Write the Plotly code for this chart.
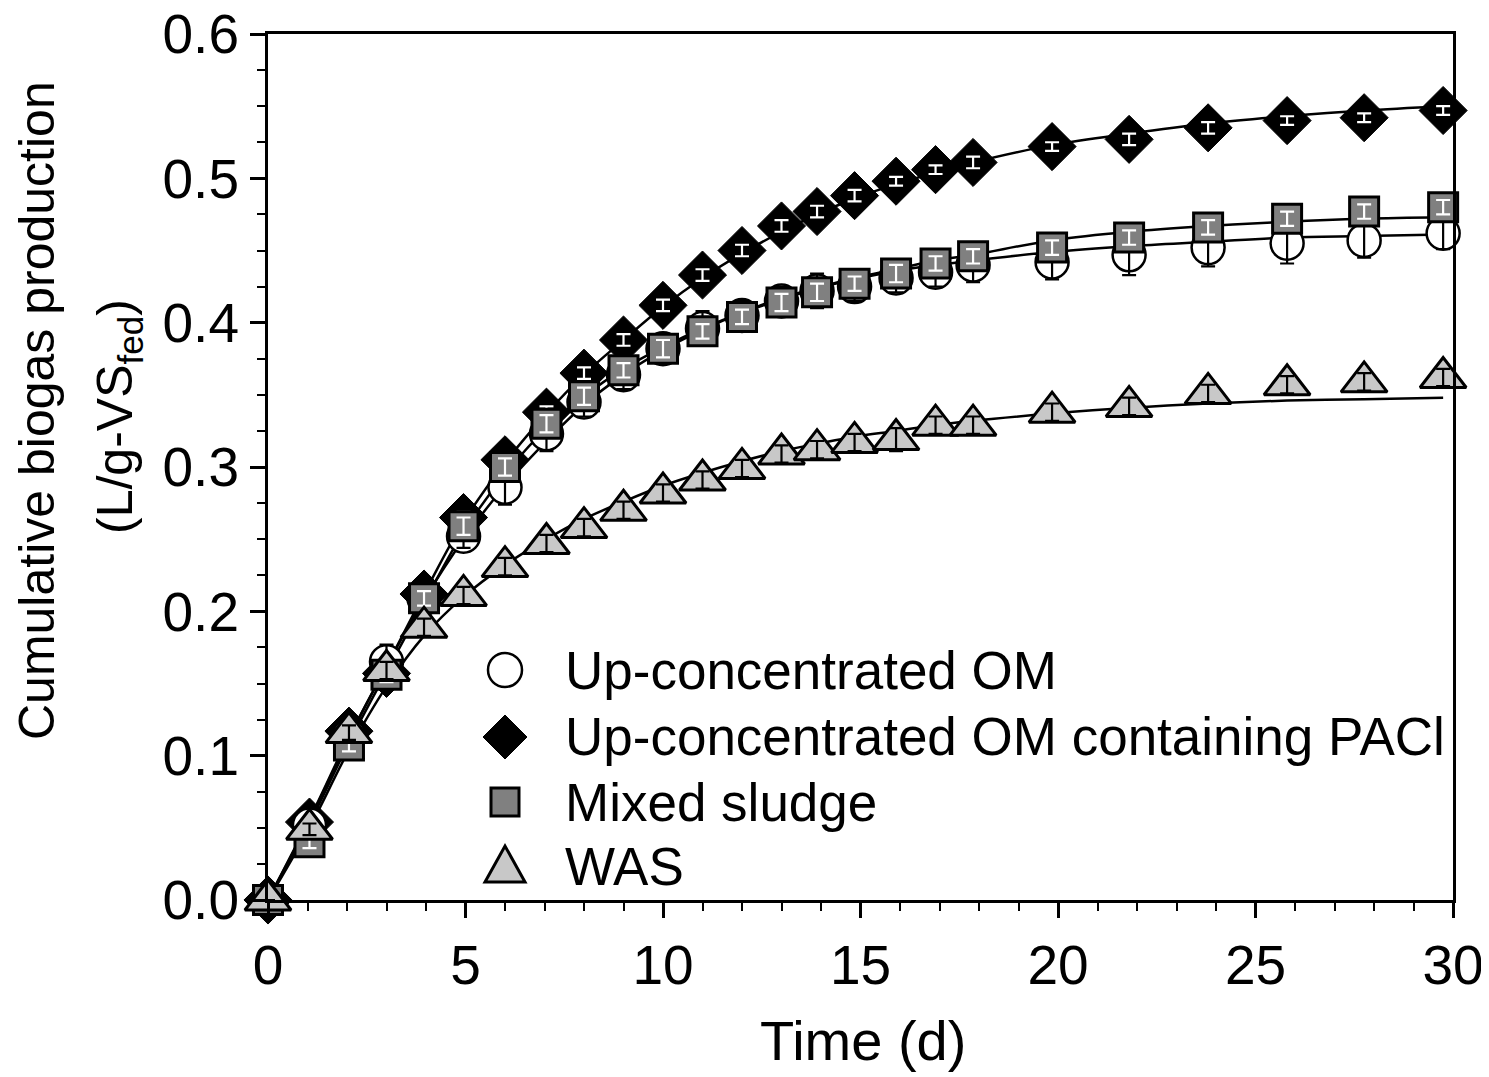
import plotly.graph_objects as go

# ---------------- data ----------------
time_d = [0, 1.05, 2.05, 3.0, 3.95, 4.95, 6.0, 7.05, 8.0, 9.0, 10.0, 11.0, 12.0,
          13.0, 13.9, 14.85, 15.9, 16.9, 17.85, 19.85, 21.8, 23.8, 25.8, 27.75, 29.75]

om = [0, 0.052, 0.114, 0.165, 0.209, 0.252, 0.286, 0.323, 0.345, 0.364, 0.382, 0.396, 0.405,
      0.415, 0.422, 0.425, 0.431, 0.435, 0.440, 0.442, 0.447, 0.452, 0.455, 0.457, 0.462]
om_err = [0, 0.005, 0.006, 0.012, 0.008, 0.008, 0.012, 0.012, 0.010, 0.010, 0.010, 0.012, 0.010,
          0.010, 0.012, 0.010, 0.010, 0.010, 0.012, 0.012, 0.014, 0.013, 0.014, 0.012, 0.011]
om_fit = [0, 0.055, 0.112, 0.162, 0.208, 0.250, 0.287, 0.318, 0.343, 0.364, 0.381, 0.395, 0.407,
          0.417, 0.424, 0.430, 0.436, 0.440, 0.443, 0.449, 0.453, 0.456, 0.459, 0.460, 0.461]

pacl = [0, 0.054, 0.117, 0.157, 0.212, 0.265, 0.305, 0.338, 0.365, 0.388, 0.412, 0.433, 0.450,
        0.467, 0.477, 0.488, 0.498, 0.506, 0.511, 0.522, 0.527, 0.535, 0.540, 0.542, 0.547]
pacl_err = [0, 0.004, 0.004, 0.003, 0.004, 0.004, 0.005, 0.004, 0.004, 0.004, 0.004, 0.004, 0.004,
            0.004, 0.004, 0.004, 0.003, 0.003, 0.004, 0.003, 0.004, 0.004, 0.003, 0.003, 0.003]
pacl_fit = [0, 0.056, 0.113, 0.162, 0.212, 0.262, 0.303, 0.337, 0.364, 0.388, 0.411, 0.431, 0.448,
            0.463, 0.475, 0.486, 0.496, 0.504, 0.511, 0.523, 0.531, 0.538, 0.543, 0.547, 0.550]

mixed = [0, 0.040, 0.107, 0.156, 0.209, 0.259, 0.300, 0.330, 0.349, 0.367, 0.382, 0.394, 0.404,
         0.414, 0.421, 0.427, 0.434, 0.441, 0.446, 0.452, 0.459, 0.466, 0.472, 0.477, 0.480]
mixed_err = [0, 0.004, 0.004, 0.005, 0.005, 0.006, 0.006, 0.006, 0.006, 0.005, 0.006, 0.005, 0.005,
             0.006, 0.006, 0.005, 0.006, 0.005, 0.005, 0.005, 0.005, 0.005, 0.005, 0.005, 0.005]
mixed_fit = [0, 0.053, 0.109, 0.158, 0.206, 0.255, 0.295, 0.327, 0.349, 0.368, 0.383, 0.396, 0.407,
             0.416, 0.424, 0.431, 0.437, 0.443, 0.447, 0.457, 0.463, 0.467, 0.470, 0.472, 0.473]

was = [0, 0.049, 0.116, 0.159, 0.189, 0.211, 0.231, 0.247, 0.258, 0.270, 0.282, 0.291, 0.299,
       0.309, 0.312, 0.317, 0.319, 0.329, 0.329, 0.338, 0.342, 0.351, 0.357, 0.359, 0.362]
was_err = [0, 0.004, 0.005, 0.006, 0.006, 0.006, 0.006, 0.006, 0.006, 0.006, 0.006, 0.006, 0.006,
           0.006, 0.006, 0.006, 0.008, 0.006, 0.006, 0.006, 0.006, 0.006, 0.006, 0.006, 0.006]
was_fit = [0, 0.050, 0.104, 0.148, 0.183, 0.210, 0.232, 0.250, 0.264, 0.276, 0.287, 0.296, 0.304,
           0.311, 0.316, 0.321, 0.325, 0.329, 0.332, 0.337, 0.341, 0.344, 0.346, 0.347, 0.348]

series_names = ["Up-concentrated OM", "Up-concentrated OM containing PACl", "Mixed sludge", "WAS"]
x_title = "Time (d)"
y_title_1 = "Cumulative biogas production"
y_title_2 = "(L/g-VS<sub>fed</sub>)"

FONT = "Liberation Sans, Arial, sans-serif"

fig = go.Figure()

# fitted curves (drawn below markers)
for fit in [pacl_fit, om_fit, mixed_fit, was_fit]:
    fig.add_trace(go.Scatter(x=time_d, y=fit, mode="lines", line=dict(color="black", width=2.5, shape="spline"),
                             showlegend=False, hoverinfo="skip", cliponaxis=False))

styles = {
    "pacl": dict(y=pacl, err=pacl_err, name=series_names[1],
                 marker=dict(symbol="diamond", size=37, color="black", line=dict(color="black", width=1)),
                 ecolor="white"),
    "om": dict(y=om, err=om_err, name=series_names[0],
               marker=dict(symbol="circle", size=33, color="white", line=dict(color="black", width=2.5)),
               ecolor="black"),
    "mixed": dict(y=mixed, err=mixed_err, name=series_names[2],
                  marker=dict(symbol="square", size=29, color="#808080", line=dict(color="black", width=3)),
                  ecolor="white"),
    "was": dict(y=was, err=was_err, name=series_names[3],
                marker=dict(symbol="triangle-up", size=40, color="#c8c8c8", line=dict(color="black", width=3)),
                ecolor="black"),
}

for key in ["pacl", "om", "mixed", "was"]:
    s = styles[key]
    fig.add_trace(go.Scatter(x=time_d, y=s["y"], mode="markers", name=s["name"], marker=s["marker"],
                             showlegend=False, cliponaxis=False))
    fig.add_trace(go.Scatter(x=time_d, y=s["y"], mode="markers", showlegend=False, hoverinfo="skip",
                             marker=dict(size=2, color="rgba(0,0,0,0)"), cliponaxis=False,
                             error_y=dict(type="data", array=s["err"], visible=True, color=s["ecolor"],
                                          thickness=2.2, width=7)))

# ---------------- layout ----------------
PAGE_OFF = 8                          # default page margin of the html body
W, H = 1489, 1077
PL, PT, PR, PB = 268, 34, 1453, 900   # plot area in screenshot pixels
L, T = PL - PAGE_OFF, PT - PAGE_OFF
R, B = W - (PR - PAGE_OFF), H - (PB - PAGE_OFF)
pw, ph = PR - PL, PB - PT

def px_x(p):
    return (p - PL) / pw

def px_y(p):
    return (PB - p) / ph

axis_common = dict(showline=True, linewidth=3, linecolor="black", mirror=True, showgrid=False,
                   zeroline=False, ticks="outside", ticklen=15, tickwidth=2.5, tickcolor="black",
                   ticklabeloverflow="allow", automargin=False,
                   tickfont=dict(family=FONT, size=55, color="black"))

fig.update_layout(
    width=W, height=H, margin=dict(l=L, r=R, t=T, b=B, autoexpand=False),
    paper_bgcolor="white", plot_bgcolor="white", showlegend=False,
    xaxis=dict(range=[0, 30], tick0=0, dtick=5,
               minor=dict(dtick=1, ticks="outside", ticklen=8, tickwidth=2, tickcolor="black", showgrid=False),
               **axis_common),
    yaxis=dict(range=[0, 0.6], tick0=0, dtick=0.1, tickformat=".1f",
               minor=dict(dtick=0.025, ticks="outside", ticklen=8, tickwidth=2, tickcolor="black", showgrid=False),
               **axis_common),
)

annotations = [
    dict(text=x_title, xref="paper", yref="paper", x=px_x(863), y=px_y(1040), xanchor="center",
         yanchor="middle", showarrow=False, font=dict(family=FONT, size=56, color="black")),
    dict(text=y_title_1, xref="paper", yref="paper", x=px_x(37), y=px_y(411), xanchor="center",
         yanchor="middle", textangle=-90, showarrow=False, font=dict(family=FONT, size=50, color="black")),
    dict(text=y_title_2, xref="paper", yref="paper", x=px_x(118), y=px_y(417), xanchor="center",
         yanchor="middle", textangle=-90, showarrow=False, font=dict(family=FONT, size=50, color="black")),
]

# manual legend (large symbols like the reference)
legend_rows = [670, 737, 802, 866]
sym_x = px_x(505)
txt_x = px_x(563)
for row_px, name in zip(legend_rows, series_names):
    annotations.append(dict(text=name, xref="paper", yref="paper", x=txt_x, y=px_y(row_px),
                            xanchor="left", yanchor="middle", showarrow=False,
                            font=dict(family=FONT, size=53, color="black")))

shapes = [
    dict(type="circle", xref="paper", yref="paper", xsizemode="pixel", ysizemode="pixel",
         xanchor=sym_x, yanchor=px_y(legend_rows[0]), x0=-17, x1=17, y0=-17, y1=17,
         fillcolor="white", line=dict(color="black", width=2.5)),
    dict(type="path", xref="paper", yref="paper", xsizemode="pixel", ysizemode="pixel",
         xanchor=sym_x, yanchor=px_y(legend_rows[1]), path="M -22 0 L 0 22 L 22 0 L 0 -22 Z",
         fillcolor="black", line=dict(color="black", width=1)),
    dict(type="rect", xref="paper", yref="paper", xsizemode="pixel", ysizemode="pixel",
         xanchor=sym_x, yanchor=px_y(legend_rows[2]), x0=-14, x1=14, y0=-14, y1=14,
         fillcolor="#808080", line=dict(color="black", width=3)),
    dict(type="path", xref="paper", yref="paper", xsizemode="pixel", ysizemode="pixel",
         xanchor=sym_x, yanchor=px_y(legend_rows[3]), path="M -20 -16 L 20 -16 L 0 20 Z",
         fillcolor="#c8c8c8", line=dict(color="black", width=3)),
]

fig.update_layout(annotations=annotations, shapes=shapes)

fig.write_html("out.html")
